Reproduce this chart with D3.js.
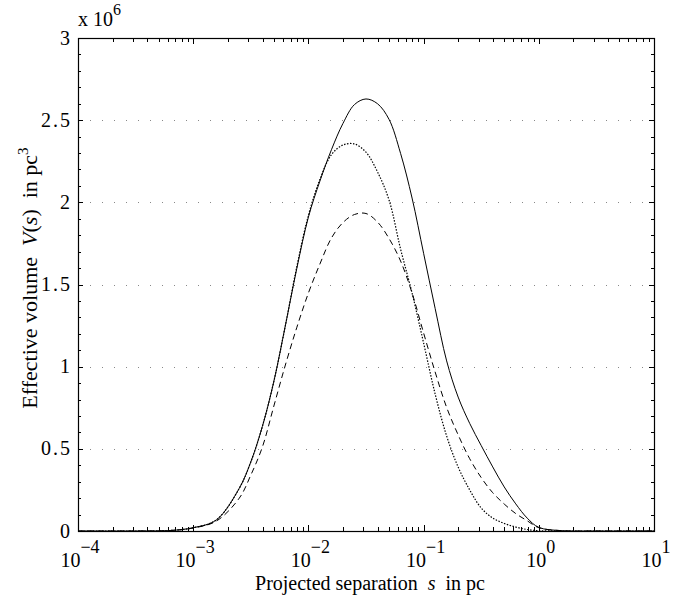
<!DOCTYPE html>
<html>
<head>
<meta charset="utf-8">
<script src="https://cdn.jsdelivr.net/npm/d3@7"></script>
<style>
  body { margin: 0; background: #fff; }
  text { font-family: "Liberation Serif", "DejaVu Serif", serif; fill: #000; }
</style>
</head>
<body>
<div id="chart"></div>
<script>
// projected separation s (pc), sampled on a log grid
var sValues = [1e-4, 3.162e-4, 6.31e-4, 0.001, 0.001585, 0.002512, 0.003162, 0.003981,
  0.005012, 0.00631, 0.007943, 0.01, 0.01259, 0.01585, 0.01995, 0.02512, 0.03162,
  0.03981, 0.05012, 0.0631, 0.07943, 0.1, 0.1259, 0.1585, 0.1995, 0.2512, 0.3162,
  0.3981, 0.5012, 0.631, 0.7943, 1, 1.585, 3.162, 10];

// effective volume V(s), units of 10^6 pc^3
var solidV = [0, 0, 0.003, 0.02, 0.067, 0.26, 0.42, 0.635,
  0.91, 1.25, 1.60, 1.91, 2.13, 2.32, 2.48, 2.595, 2.629,
  2.60, 2.505, 2.298, 2.026, 1.69, 1.355, 1.035, 0.815, 0.655, 0.52,
  0.39, 0.268, 0.165, 0.078, 0.022, 0.002, 0, 0];
var dottedV = [0, 0, 0.003, 0.02, 0.067, 0.26, 0.42, 0.635,
  0.91, 1.25, 1.61, 1.92, 2.14, 2.29, 2.349, 2.355, 2.305,
  2.185, 2.014, 1.716, 1.448, 1.144, 0.834, 0.578, 0.389, 0.25, 0.14,
  0.079, 0.046, 0.024, 0.009, 0.002, 0, 0, 0];
var dashedV = [0, 0, 0.003, 0.018, 0.06, 0.2, 0.34, 0.51,
  0.76, 1.01, 1.24, 1.448, 1.625, 1.783, 1.877, 1.926, 1.932,
  1.88, 1.78, 1.643, 1.448, 1.205, 0.968, 0.752, 0.585, 0.44, 0.325,
  0.233, 0.164, 0.106, 0.062, 0.02, 0.002, 0, 0];

var xDecades = [-4, -3, -2, -1, 0, 1];
var yTicks = [0, 0.5, 1, 1.5, 2, 2.5, 3];
var yTickLabels = ["0", "0.5", "1", "1.5", "2", "2.5", "3"];

var W = 689, H = 598;
var pLeft = 78, pRight = 654, pTop = 38, pBottom = 531;
var fs = 20;

var svg = d3.select("#chart").append("svg")
  .attr("width", W).attr("height", H);

svg.append("defs").append("clipPath").attr("id", "plotclip")
  .append("rect")
  .attr("x", pLeft).attr("y", pTop)
  .attr("width", pRight - pLeft).attr("height", pBottom - pTop);

var x = d3.scaleLog().domain([1e-4, 10]).range([pLeft, pRight]);
var y = d3.scaleLinear().domain([0, 3]).range([pBottom, pTop]);

// dotted grid lines on y major ticks
svg.append("g").selectAll("line")
  .data(yTicks.filter(function(d) { return d > 0 && d < 3; }))
  .enter().append("line")
  .attr("x1", pLeft).attr("x2", pRight)
  .attr("y1", function(d) { return Math.round(y(d)) + 0.5; })
  .attr("y2", function(d) { return Math.round(y(d)) + 0.5; })
  .attr("stroke", "#888")
  .attr("stroke-width", 1)
  .attr("stroke-dasharray", "1,11")
  .attr("stroke-dashoffset", -12);

// curves
var line = d3.line()
  .x(function(d) { return x(d[0]); })
  .y(function(d) { return y(d[1]); })
  .curve(d3.curveCatmullRom.alpha(0.5));

var series = [
  { v: solidV, dash: null, w: 1 },
  { v: dottedV, dash: "1.5,1.5", w: 1.2 },
  { v: dashedV, dash: "6,4", w: 1 }
];
var cg = svg.append("g").attr("clip-path", "url(#plotclip)");
series.forEach(function(s) {
  cg.append("path")
    .datum(sValues.map(function(d, i) { return [d, s.v[i]]; }))
    .attr("d", line)
    .attr("fill", "none")
    .attr("stroke", "#000")
    .attr("stroke-width", s.w)
    .attr("stroke-dasharray", s.dash);
});

// ticks (inside, all four sides)
var xMinor = [];
xDecades.forEach(function(e) {
  if (e < 1) for (var k = 2; k <= 9; k++) xMinor.push(k * Math.pow(10, e));
});
var tg = svg.append("g").attr("stroke", "#000").attr("stroke-width", 1);
function xTick(v, len) {
  var px = Math.round(x(v)) + 0.5;
  tg.append("line").attr("x1", px).attr("x2", px).attr("y1", pBottom).attr("y2", pBottom - len);
  tg.append("line").attr("x1", px).attr("x2", px).attr("y1", pTop).attr("y2", pTop + len);
}
xDecades.forEach(function(e) { xTick(Math.pow(10, e), 6); });
xMinor.forEach(function(v) { xTick(v, 4); });

var yMinor = d3.range(0, 31).map(function(i) { return i / 10; });
function yTick(v, len) {
  var py = Math.round(y(v)) + 0.5;
  tg.append("line").attr("x1", pLeft).attr("x2", pLeft + len).attr("y1", py).attr("y2", py);
  tg.append("line").attr("x1", pRight).attr("x2", pRight - len).attr("y1", py).attr("y2", py);
}
yMinor.forEach(function(v) { yTick(v, 3); });
yTicks.forEach(function(v) { yTick(v, 5); });

// axes box
svg.append("rect")
  .attr("x", pLeft + 0.5).attr("y", pTop + 0.5)
  .attr("width", pRight - pLeft).attr("height", pBottom - pTop)
  .attr("fill", "none").attr("stroke", "#000").attr("stroke-width", 1.2);

// y tick labels (loose spacing round the decimal point)
svg.append("g").selectAll("text")
  .data(yTicks).enter().append("text")
  .attr("x", pLeft - 8)
  .attr("y", function(d) { return y(d); })
  .attr("dy", "0.33em")
  .attr("dx", function(d, i) {
    return yTickLabels[i].split("").map(function(c, j) { return j === 0 ? 0 : 2; }).join(" ");
  })
  .attr("text-anchor", "end")
  .style("font-size", fs + "px")
  .text(function(d, i) { return yTickLabels[i]; });

// x tick labels 10^e
xDecades.forEach(function(e) {
  var t = svg.append("text")
    .attr("x", x(Math.pow(10, e)) + 2)
    .attr("y", 567)
    .attr("text-anchor", "middle")
    .style("font-size", fs + "px");
  t.append("tspan").text("10");
  t.append("tspan").attr("dy", -14).style("font-size", "18px")
    .text(e < 0 ? "\u2212" + (-e) : String(e));
});

// exponent factor
var ex = svg.append("text").attr("x", pLeft).attr("y", 26).style("font-size", fs + "px");
ex.append("tspan").text("x 10");
ex.append("tspan").attr("dy", -11).style("font-size", "16px").text("6");

// axis labels
var xl = svg.append("text")
  .attr("x", (pLeft + pRight) / 2 + 4).attr("y", 590)
  .attr("text-anchor", "middle")
  .style("font-size", fs + "px");
xl.append("tspan").text("Projected separation\u00a0\u00a0");
xl.append("tspan").style("font-style", "italic").text("s");
xl.append("tspan").text("\u00a0\u00a0in pc");

var yl = svg.append("text")
  .attr("transform", "translate(37,278) rotate(-90)")
  .attr("text-anchor", "middle")
  .style("font-size", "22px");
yl.append("tspan").text("Effective volume\u00a0\u00a0");
yl.append("tspan").style("font-style", "italic").text("V");
yl.append("tspan").text("(");
yl.append("tspan").style("font-style", "italic").text("s");
yl.append("tspan").text(")\u00a0\u00a0in pc");
yl.append("tspan").attr("dy", -9).style("font-size", "15px").text("3");
</script>
</body>
</html>
